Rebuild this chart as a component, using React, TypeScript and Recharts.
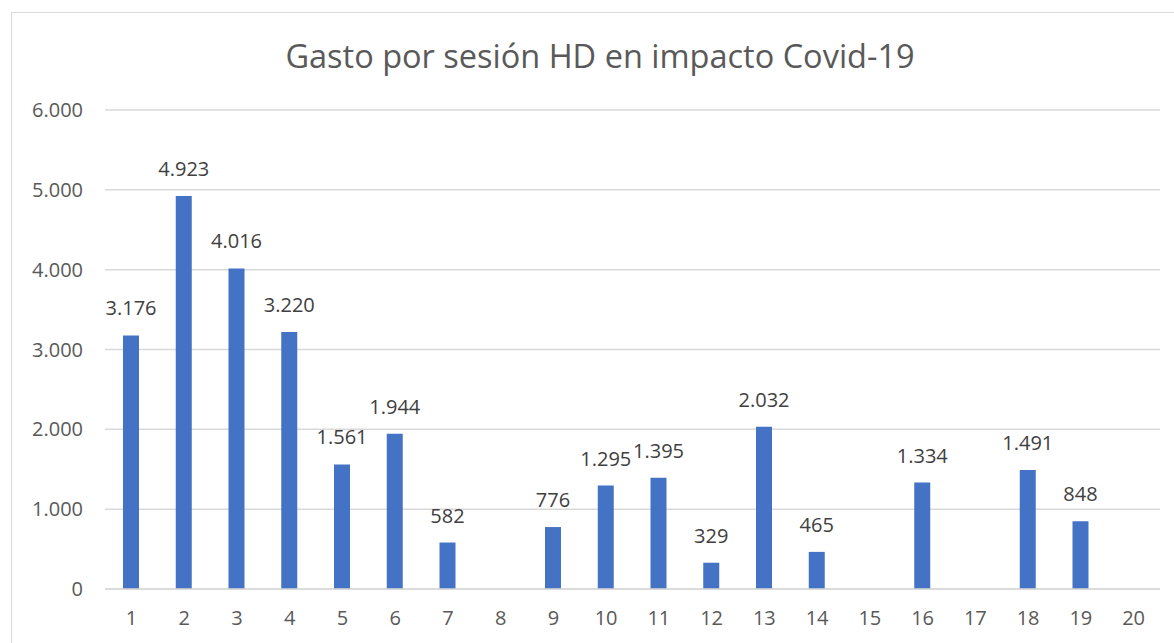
import React from 'react';
import { BarChart, Bar, XAxis, YAxis, CartesianGrid, LabelList } from 'recharts';

const sessions = ['1', '2', '3', '4', '5', '6', '7', '8', '9', '10', '11', '12', '13', '14', '15', '16', '17', '18', '19', '20'];
const gasto: (number | null)[] = [3176, 4923, 4016, 3220, 1561, 1944, 582, null, 776, 1295, 1395, 329, 2032, 465, null, 1334, null, 1491, 848, null];
const yTicks = [0, 1000, 2000, 3000, 4000, 5000, 6000];

const FONT = '"Open Sans", "Liberation Sans", sans-serif';

// Excel style thousands separator: 4923 -> "4.923"
const fmt = (v: any) => {
  if (v === null || v === undefined || v === '') return '';
  return String(Math.round(Number(v))).replace(/\B(?=(\d{3})+(?!\d))/g, '.');
};

const data = sessions.map((s, i) => ({ sesion: s, gasto: gasto[i] }));

export default function App() {
  return (
    <div style={{ position: 'absolute', left: 0, top: 0, width: 1174, height: 643, overflow: 'hidden', background: '#fff', fontFamily: FONT }}>
      <div style={{ position: 'absolute', left: 11, top: 12, width: 1200, height: 700, border: '1px solid #d9d9d9', boxSizing: 'border-box' }} />
      <div style={{ position: 'absolute', left: 11, width: 1178, top: 34, textAlign: 'center', fontSize: 32.5, color: '#595959', lineHeight: '44px' }}>
        Gasto por sesión HD en impacto Covid-19
      </div>
      <div style={{ position: 'absolute', left: 0, top: 0 }}>
        <BarChart width={1174} height={643} data={data} margin={{ top: 110, right: 14, bottom: 24, left: 0 }} barCategoryGap={0}>
          <CartesianGrid vertical={false} stroke="#d9d9d9" strokeWidth={1.5} />
          <XAxis
            dataKey="sesion"
            height={30}
            axisLine={{ stroke: '#d9d9d9', strokeWidth: 1.5 }}
            tickLine={false}
            tickSize={0}
            tickMargin={22}
            tick={{ fill: '#595959', fontSize: 20, fontFamily: FONT }}
            interval={0}
          />
          <YAxis
            width={105}
            domain={[0, 6000]}
            ticks={yTicks}
            axisLine={false}
            tickLine={false}
            tickSize={0}
            tickMargin={22}
            tickFormatter={fmt}
            tick={{ fill: '#595959', fontSize: 20, fontFamily: FONT }}
          />
          <Bar dataKey="gasto" fill="#4472c4" barSize={16} isAnimationActive={false}>
            <LabelList dataKey="gasto" position="top" offset={20} formatter={fmt} fill="#404040" fontSize={20} fontFamily={FONT} />
          </Bar>
        </BarChart>
      </div>
    </div>
  );
}
